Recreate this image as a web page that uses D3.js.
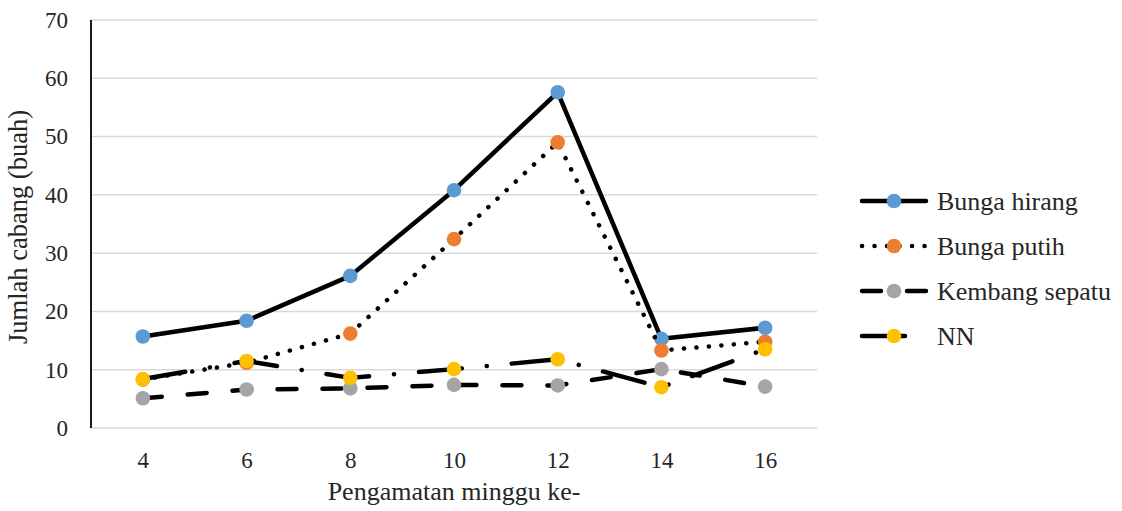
<!DOCTYPE html>
<html>
<head>
<meta charset="utf-8">
<script src="https://cdn.jsdelivr.net/npm/d3@7"></script>
<style>
  html, body { margin: 0; padding: 0; background: #fff; }
  svg { display: block; }
</style>
</head>
<body>
<svg id="chart" width="1122" height="511"></svg>
<script>
// Observation weeks (x categories)
const weeks = [4, 6, 8, 10, 12, 14, 16];

// Number of branches per plant type
const bungaHirang   = [15.7, 18.4, 26.1, 40.8, 57.6, 15.3, 17.2];
const bungaPutih    = [8.3, 11.2, 16.2, 32.4, 49.0, 13.3, 14.8];
const kembangSepatu = [5.1, 6.6, 6.8, 7.4, 7.3, 10.1, 7.1];
const nn            = [8.4, 11.5, 8.6, 10.1, 11.8, 7.0, 13.5];

const seriesNames = ["Bunga hirang", "Bunga putih", "Kembang sepatu", "NN"];
const yTicks = [0, 10, 20, 30, 40, 50, 60, 70];

const yTitle = "Jumlah cabang (buah)";
const xTitle = "Pengamatan minggu ke-";

const FONT = '"Liberation Serif", "Times New Roman", Tinos, serif';
const TEXT_COLOR = "#262626";

// Visual style for each series
const styles = [
  { color: "#5B9BD5", dash: null },
  { color: "#ED7D31", dash: "0.1 12.4" },
  { color: "#A5A5A5", dash: "19 26" },
  { color: "#FFC000", dash: "43 25 0.1 25" }
];

const series = [bungaHirang, bungaPutih, kembangSepatu, nn].map((vals, i) => ({
  name: seriesNames[i],
  values: vals.map((v, j) => ({ week: weeks[j], value: v })),
  style: styles[i]
}));

const svg = d3.select("#chart");
const plot = { left: 91, right: 817, top: 20, bottom: 428 };

const x = d3.scalePoint()
  .domain(weeks)
  .range([plot.left, plot.right])
  .padding(0.5);

const y = d3.scaleLinear()
  .domain([0, 70])
  .range([plot.bottom, plot.top]);

// Horizontal gridlines
svg.append("g")
  .selectAll("line")
  .data(yTicks)
  .join("line")
  .attr("x1", plot.left)
  .attr("x2", plot.right)
  .attr("y1", d => y(d))
  .attr("y2", d => y(d))
  .attr("stroke", "#d9d9d9")
  .attr("stroke-width", 1.5);

// Y axis labels
const yAxis = svg.append("g")
  .attr("transform", `translate(${plot.left},0)`)
  .call(d3.axisLeft(y).tickValues(yTicks).tickSize(0).tickPadding(23));
yAxis.select(".domain").remove();
yAxis.selectAll("text")
  .style("font-family", FONT)
  .style("font-size", "23px")
  .attr("fill", TEXT_COLOR);

// Vertical axis line
svg.append("line")
  .attr("x1", plot.left).attr("x2", plot.left)
  .attr("y1", plot.top).attr("y2", plot.bottom)
  .attr("stroke", "#000")
  .attr("stroke-width", 1.8);

// X axis labels
const xAxis = svg.append("g")
  .attr("transform", `translate(0,${plot.bottom})`)
  .call(d3.axisBottom(x).tickSize(0).tickPadding(24));
xAxis.select(".domain").remove();
xAxis.selectAll("text")
  .style("font-family", FONT)
  .style("font-size", "23px")
  .attr("fill", TEXT_COLOR);

// Axis titles
svg.append("text")
  .attr("transform", `translate(27,227) rotate(-90)`)
  .attr("text-anchor", "middle")
  .style("font-family", FONT)
  .style("font-size", "26.5px")
  .attr("fill", TEXT_COLOR)
  .text(yTitle);

svg.append("text")
  .attr("x", (plot.left + plot.right) / 2)
  .attr("y", 500)
  .attr("text-anchor", "middle")
  .style("font-family", FONT)
  .style("font-size", "26px")
  .attr("fill", TEXT_COLOR)
  .text(xTitle);

// Lines and markers
const line = d3.line()
  .x(d => x(d.week))
  .y(d => y(d.value));

series.forEach(s => {
  const g = svg.append("g");
  g.append("path")
    .datum(s.values)
    .attr("d", line)
    .attr("fill", "none")
    .attr("stroke", "#000")
    .attr("stroke-width", 4.5)
    .attr("stroke-linecap", "round")
    .attr("stroke-linejoin", "round")
    .attr("stroke-dasharray", s.style.dash);
  g.selectAll("circle")
    .data(s.values)
    .join("circle")
    .attr("cx", d => x(d.week))
    .attr("cy", d => y(d.value))
    .attr("r", 7.3)
    .attr("fill", s.style.color);
});

// Legend
const legend = svg.append("g");
const legendY = d3.scalePoint().domain(seriesNames).range([201, 336]);
series.forEach(s => {
  const ly = legendY(s.name);
  const g = legend.append("g");
  const x2 = s.name === "NN" ? 907 : 926;
  g.append("line")
    .attr("x1", 862).attr("x2", x2)
    .attr("y1", ly).attr("y2", ly)
    .attr("stroke", "#000")
    .attr("stroke-width", 4.5)
    .attr("stroke-linecap", "round")
    .attr("stroke-dasharray", s.style.dash);
  g.append("circle")
    .attr("cx", 894).attr("cy", ly)
    .attr("r", 7.3)
    .attr("fill", s.style.color);
  g.append("text")
    .attr("x", 937)
    .attr("y", ly + 9)
    .style("font-family", FONT)
    .style("font-size", "26px")
    .attr("fill", TEXT_COLOR)
    .text(s.name);
});
</script>
</body>
</html>
